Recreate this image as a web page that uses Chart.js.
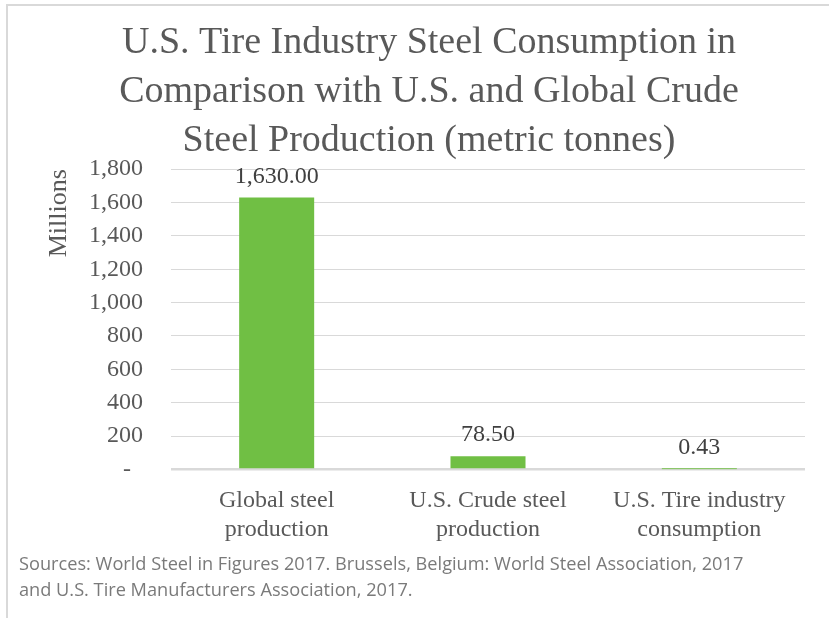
<!DOCTYPE html>
<html>
<head>
<meta charset="utf-8">
<script src="https://cdn.jsdelivr.net/npm/chart.js@4/dist/chart.umd.min.js"></script>
<style>
  html, body { margin: 0; padding: 0; background: #fff; overflow: hidden; }
  #frame { position: absolute; left: 6px; top: 4px; width: 900px; height: 700px;
           border-top: 2px solid #d9d9d9; border-left: 2px solid #d9d9d9; }
  #box { position: absolute; left: 0; top: 0; width: 829px; height: 555px; }
  #source { position: absolute; left: 19px; top: 550px; width: 808px;
            font-family: "Open Sans", "Liberation Sans", sans-serif; font-size: 18.2px;
            line-height: 26px; color: #7a7a7a; white-space: nowrap; }
</style>
</head>
<body>
<div id="frame"></div>
<div id="box"><canvas id="graph"></canvas></div>
<div id="source">Sources: World Steel in Figures 2017. Brussels, Belgium: World Steel Association, 2017<br>and U.S. Tire Manufacturers Association, 2017.</div>
<script>
var titleLines = ['U.S. Tire Industry Steel Consumption in', 'Comparison with U.S. and Global Crude', 'Steel Production (metric tonnes)'];
var categories = [['Global steel', 'production'], ['U.S. Crude steel', 'production'], ['U.S. Tire industry', 'consumption']];
var values = [1630.00, 78.50, 0.43];
var yMax = 1800;
var yStep = 200;

var serif = '"Liberation Serif", "Times New Roman", serif';
var grey = '#595959';

function fmt2(v) {
    return v.toLocaleString('en-US', { minimumFractionDigits: 2, maximumFractionDigits: 2 });
}

// value labels above the bars
var valueLabels = {
    id: 'valueLabels',
    afterDatasetsDraw: function (chart) {
        var ctx = chart.ctx;
        var meta = chart.getDatasetMeta(0);
        ctx.save();
        ctx.font = '24px ' + serif;
        ctx.fillStyle = '#404040';
        ctx.textAlign = 'center';
        ctx.textBaseline = 'alphabetic';
        meta.data.forEach(function (bar, i) {
            ctx.fillText(fmt2(values[i]), bar.x, bar.y - 15);
        });
        ctx.restore();
    }
};

var ctx = document.getElementById('graph');
var chart = new Chart(ctx, {
    type: 'bar',
    data: {
        labels: categories,
        datasets: [{
            data: values,
            backgroundColor: '#70bf44',
            barPercentage: 0.355,
            categoryPercentage: 1
        }]
    },
    options: {
        responsive: true,
        maintainAspectRatio: false,
        animation: false,
        layout: { padding: { top: 0, right: 0, bottom: 2, left: 29 } },
        plugins: {
            legend: { display: false },
            tooltip: { enabled: false },
            title: {
                display: true,
                text: titleLines,
                color: grey,
                font: { family: serif, size: 38, weight: 'normal', lineHeight: 1.3 },
                padding: { top: 18, bottom: 3 }
            }
        },
        scales: {
            x: {
                grid: { display: false },
                border: { display: false },
                ticks: {
                    color: grey,
                    padding: 9,
                    maxRotation: 0,
                    autoSkip: false,
                    font: { family: serif, size: 24, lineHeight: 1.2 }
                }
            },
            y: {
                min: 0,
                max: yMax,
                afterFit: function (scale) { scale.width = 142; },
                border: { display: false },
                grid: {
                    color: '#d9d9d9',
                    drawTicks: false,
                    lineWidth: function (c) { return c.tick && c.tick.value === 0 ? 2.5 : 1; }
                },
                ticks: {
                    stepSize: yStep,
                    autoSkip: false,
                    color: grey,
                    padding: 28,
                    font: { family: serif, size: 24 },
                    callback: function (v) { return v === 0 ? '-  ' : v.toLocaleString('en-US'); }
                },
                title: {
                    display: true,
                    text: 'Millions',
                    align: 'end',
                    color: grey,
                    font: { family: serif, size: 26, lineHeight: 1.2 },
                    padding: { top: 15, bottom: 0 }
                }
            },
            // empty right-hand gap so the plot ends where the original does
            gap: {
                type: 'linear',
                position: 'right',
                min: 0,
                max: 1,
                grid: { display: false },
                border: { display: false },
                ticks: { display: false },
                afterFit: function (scale) { scale.width = 24; }
            }
        }
    },
    plugins: [valueLabels]
});
</script>
</body>
</html>
